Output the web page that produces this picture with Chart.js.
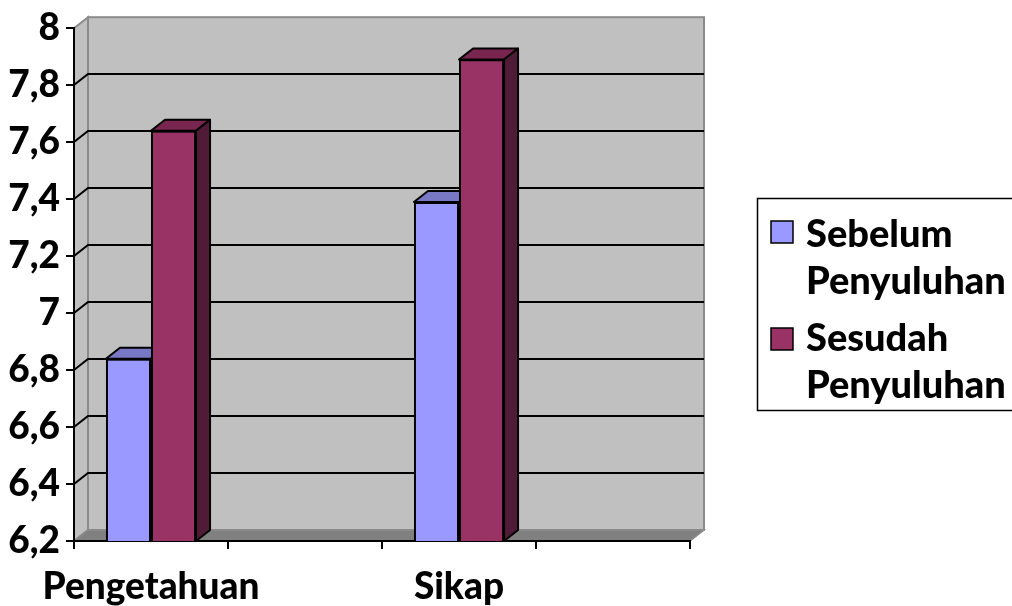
<!DOCTYPE html>
<html>
<head>
<meta charset="utf-8">
<script src="https://cdn.jsdelivr.net/npm/chart.js@4/dist/chart.umd.min.js"></script>
<style>
  html, body { margin: 0; padding: 0; background: #fff; }
  #wrap { width: 1012px; height: 606px; }
</style>
</head>
<body>
<div id="wrap"><canvas id="c" width="1012" height="606"></canvas></div>
<script>
// Categories (every other slot is empty, as in the original workbook)
const categories = ['Pengetahuan', '', 'Sikap', ''];
// Mean scores before and after the counselling session
const sebelum = [6.84, null, 7.39, null];
const sesudah = [7.64, null, 7.89, null];
const seriesNames = [['Sebelum', 'Penyuluhan'], ['Sesudah', 'Penyuluhan']];
// Value axis ticks and their labels (comma decimals)
const tickValues = [6.2, 6.4, 6.6, 6.8, 7.0, 7.2, 7.4, 7.6, 7.8, 8.0];
const tickLabels = ['6,2', '6,4', '6,6', '6,8', '7', '7,2', '7,4', '7,6', '7,8', '8'];

// Depth of the pseudo-3D box (back wall offset from the front plane)
const DEPTH_X = 14;
const DEPTH_Y = -11;
const FONT = 'Lato';
const FONT_WEIGHT = '900';
const FONT_SIZE = 37;
const LEGEND_SIZE = 38;

const faceColors = [
  { front: '#9999ff', top: '#7878c4', side: '#4d4d80' },
  { front: '#993366', top: '#782650', side: '#4f1b36' }
];

const box3d = {
  id: 'box3d',
  beforeDraw(chart) {
    const ctx = chart.ctx;
    const a = chart.chartArea;
    const y = chart.scales.y;
    ctx.save();
    ctx.fillStyle = '#ffffff';
    ctx.fillRect(0, 0, chart.width, chart.height);

    // back wall
    ctx.fillStyle = '#c0c0c0';
    ctx.fillRect(a.left + DEPTH_X, a.top + DEPTH_Y, a.right - a.left, a.bottom - a.top);
    // side wall
    ctx.beginPath();
    ctx.moveTo(a.left, a.bottom);
    ctx.lineTo(a.left, a.top);
    ctx.lineTo(a.left + DEPTH_X, a.top + DEPTH_Y);
    ctx.lineTo(a.left + DEPTH_X, a.bottom + DEPTH_Y);
    ctx.closePath();
    ctx.fill();
    ctx.strokeStyle = '#8a8a8a';
    ctx.lineWidth = 2;
    ctx.stroke();
    ctx.strokeRect(a.left + DEPTH_X, a.top + DEPTH_Y, a.right - a.left, a.bottom - a.top);

    // floor
    ctx.beginPath();
    ctx.moveTo(a.left, a.bottom);
    ctx.lineTo(a.left + DEPTH_X, a.bottom + DEPTH_Y);
    ctx.lineTo(a.right + DEPTH_X, a.bottom + DEPTH_Y);
    ctx.lineTo(a.right, a.bottom);
    ctx.closePath();
    ctx.fillStyle = '#808080';
    ctx.fill();
    ctx.strokeStyle = '#8c8c8c';
    ctx.lineWidth = 1.5;
    ctx.stroke();

    // gridlines on the side and back walls
    ctx.strokeStyle = '#000';
    ctx.lineWidth = 2;
    tickValues.slice(1, -1).forEach(v => {
      const py = Math.round(y.getPixelForValue(v));
      ctx.beginPath();
      ctx.moveTo(a.left, py);
      ctx.lineTo(a.left + DEPTH_X, py + DEPTH_Y);
      ctx.lineTo(a.right + DEPTH_X, py + DEPTH_Y);
      ctx.stroke();
    });
    ctx.restore();
  },
  afterDatasetsDraw(chart) {
    // Columns are re-drawn series by series, left to right, so that each
    // front face hides the side face of the column to its left.
    const ctx = chart.ctx;
    const a = chart.chartArea;
    chart.data.datasets.forEach((ds, di) => {
      const meta = chart.getDatasetMeta(di);
      const col = faceColors[di];
      meta.data.forEach((el, i) => {
        const v = ds.data[i];
        if (v === null || v === undefined) return;
        const p = el.getProps(['x', 'y', 'base', 'width'], true);
        const x1 = p.x - p.width / 2;
        const x2 = p.x + p.width / 2;
        const base = Math.min(p.base, a.bottom);
        // front face, clipped to the plot area
        ctx.save();
        ctx.beginPath();
        ctx.rect(a.left, a.top, a.right - a.left, a.bottom - a.top);
        ctx.clip();
        el.draw(ctx, a);
        ctx.restore();

        ctx.save();
        ctx.strokeStyle = '#000';
        ctx.lineWidth = 2;
        ctx.lineJoin = 'round';
        // top face
        ctx.beginPath();
        ctx.moveTo(x1, p.y);
        ctx.lineTo(x1 + DEPTH_X, p.y + DEPTH_Y);
        ctx.lineTo(x2 + DEPTH_X, p.y + DEPTH_Y);
        ctx.lineTo(x2, p.y);
        ctx.closePath();
        ctx.fillStyle = col.top;
        ctx.fill();
        ctx.stroke();
        // side face
        ctx.beginPath();
        ctx.moveTo(x2, p.y);
        ctx.lineTo(x2 + DEPTH_X, p.y + DEPTH_Y);
        ctx.lineTo(x2 + DEPTH_X, base + DEPTH_Y);
        ctx.lineTo(x2, base);
        ctx.closePath();
        ctx.fillStyle = col.side;
        ctx.fill();
        ctx.stroke();
        ctx.restore();
      });
    });
  },
  afterDraw(chart) {
    // legend box on the right
    const ctx = chart.ctx;
    ctx.save();
    ctx.strokeStyle = '#000';
    ctx.lineWidth = 1.5;
    ctx.strokeRect(757.5, 198.5, 270, 212);
    ctx.font = FONT_WEIGHT + ' ' + LEGEND_SIZE + 'px "' + FONT + '"';
    ctx.textBaseline = 'alphabetic';
    ctx.textAlign = 'left';
    const rows = [{ sq: 221, base: [247, 294] }, { sq: 328, base: [351, 398] }];
    chart.data.datasets.forEach((ds, i) => {
      const r = rows[i];
      ctx.fillStyle = ds.backgroundColor;
      ctx.fillRect(771, r.sq, 22, 22);
      ctx.strokeRect(771, r.sq, 22, 22);
      ctx.fillStyle = '#000';
      seriesNames[i].forEach((line, k) => ctx.fillText(line, 806, r.base[k]));
    });
    ctx.restore();
  }
};

new Chart(document.getElementById('c'), {
  type: 'bar',
  data: {
    labels: categories,
    datasets: [
      { label: seriesNames[0].join(' '), data: sebelum, backgroundColor: faceColors[0].front, borderColor: '#000', borderWidth: 2 },
      { label: seriesNames[1].join(' '), data: sesudah, backgroundColor: faceColors[1].front, borderColor: '#000', borderWidth: 2 }
    ]
  },
  options: {
    responsive: false,
    animation: false,
    devicePixelRatio: 1,
    layout: { padding: { top: 23, right: 322, left: 0, bottom: 0 } },
    datasets: { bar: { categoryPercentage: 0.585, barPercentage: 1.0, skipNull: false } },
    plugins: { legend: { display: false }, tooltip: { enabled: false } },
    scales: {
      x: {
        offset: true,
        grid: { offset: true, drawOnChartArea: false, drawTicks: true, tickLength: 8, color: '#000', lineWidth: 2 },
        border: { display: true, color: '#000', width: 2 },
        ticks: { color: '#000', padding: 16, maxRotation: 0, autoSkip: false, font: { family: FONT, weight: FONT_WEIGHT, size: FONT_SIZE } },
        afterFit(scale) { scale.height = 65; }
      },
      y: {
        min: 6.2,
        max: 8,
        afterBuildTicks(scale) { scale.ticks = tickValues.map(v => ({ value: v })); },
        grid: { drawOnChartArea: false, drawTicks: true, tickLength: 8, color: '#000', lineWidth: 2 },
        border: { display: true, color: '#000', width: 2 },
        ticks: {
          color: '#000', padding: 6,
          font: { family: FONT, weight: FONT_WEIGHT, size: FONT_SIZE },
          callback: (v, i) => tickLabels[i]
        },
        afterFit(scale) { scale.width = 74; }
      }
    }
  },
  plugins: [box3d]
});
</script>
</body>
</html>
